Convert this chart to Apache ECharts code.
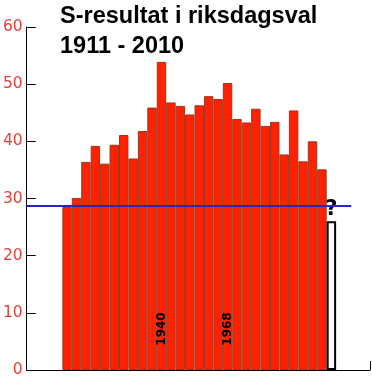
<!DOCTYPE html>
<html>
<head>
<meta charset="utf-8">
<script src="https://cdn.jsdelivr.net/npm/echarts@6/dist/echarts.min.js"></script>
<style>
html,body{margin:0;padding:0;background:#fff;}
#chart{width:372px;height:389px;}
</style>
</head>
<body>
<div id="chart"></div>
<script>
// Election years (one bar each; 2010 = unknown result)
const years = ['1911','1914 (mars)','1914 (sept)','1917','1920','1921','1924','1928','1932','1936','1940','1944','1948','1956','1958','1960','1964','1968','1973','1976','1982','1985','1988','1991','1994','1998','2002','2006','2010'];
// S share of vote, percent
const values = [28.5,30.1,36.4,39.2,36.1,39.4,41.1,37.0,41.8,45.9,53.9,46.8,46.2,44.7,46.3,47.9,47.4,50.2,43.9,43.3,45.7,42.7,43.4,37.7,45.4,36.5,40.0,35.1,26.0];
// Years written inside bars
const labelledYears = ['1940','1968'];
// Year with unknown outcome
const openYear = '2010';
// Reference level (blue line)
const refLevel = [28.8];
// Y tick labels
const yTicks = [0,10,20,30,40,50,60];

const chart = echarts.init(document.getElementById('chart'), null, {renderer:'canvas'});

const barData = years.map((y, i) => {
  const item = { value: [i, values[i]] };
  if (y === openYear) {
    item.itemStyle = { color: '#ffffff', borderColor: '#000000', borderWidth: 2 };
    item.label = {
      show: true, position: 'top', distance: 1, formatter: '?',
      color: '#000', fontFamily: 'DejaVu Sans', fontWeight: 'bold', fontSize: 21
    };
  } else if (labelledYears.indexOf(y) >= 0) {
    item.label = {
      show: true, position: 'insideBottom', distance: 41, rotate: 90,
      align: 'center', verticalAlign: 'middle',
      formatter: y, color: '#000', fontFamily: 'DejaVu Sans', fontWeight: 'bold', fontSize: 12
    };
  }
  return item;
});

const option = {
  animation: false,
  backgroundColor: '#ffffff',
  title: {
    text: 'S-resultat i riksdagsval\n1911 - 2010',
    left: 55, top: -3,
    textStyle: { fontFamily: 'Liberation Sans', fontWeight: 'bold', fontSize: 23.5, lineHeight: 30, color: '#000' }
  },
  grid: { left: 26, right: 2, top: 27, bottom: 19, containLabel: false },
  xAxis: [
    { type: 'value', min: -4.274, max: 32.09, show: false },
    { type: 'value', min: 0, max: 1, interval: 1, position: 'bottom',
      axisLine: { show: true, onZero: false, lineStyle: { color: '#000', width: 1 } },
      axisTick: { show: true, inside: true, length: 9, lineStyle: { color: '#000' } },
      axisLabel: { show: false }, splitLine: { show: false } }
  ],
  yAxis: {
    type: 'value', min: yTicks[0], max: yTicks[yTicks.length - 1], interval: 10,
    axisLine: { show: true, onZero: false, lineStyle: { color: '#000', width: 1 } },
    axisTick: { show: true, inside: true, length: 9, lineStyle: { color: '#000' } },
    axisLabel: { color: '#e5403a', fontFamily: 'DejaVu Sans', fontSize: 15.5, margin: 4 },
    splitLine: { show: false }
  },
  series: [{
    type: 'bar',
    xAxisIndex: 0,
    barWidth: 9.45,
    itemStyle: { color: '#ff2200', borderColor: '#9c3622', borderWidth: 1 },
    data: barData,
    markLine: {
      silent: true, symbol: 'none', label: { show: false },
      lineStyle: { color: '#2525c8', width: 2, type: 'solid' },
      data: [[ { coord: [-4.274, refLevel[0]] }, { coord: [30.1, refLevel[0]] } ]]
    }
  }]
};
chart.setOption(option);
</script>
</body>
</html>
